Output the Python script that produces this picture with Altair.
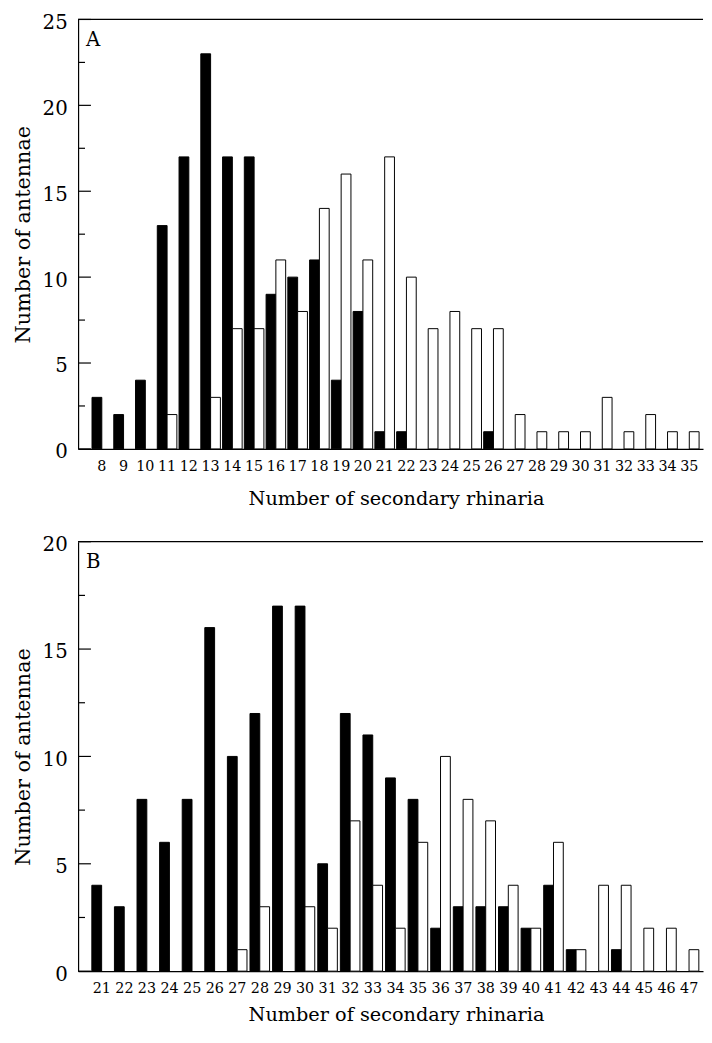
import altair as alt
import pandas as pd

FONT = "DejaVu Serif"
SERIES = ["filled", "open"]

# Panel A
a_bins = list(range(8, 36))
a_filled = [3, 2, 4, 13, 17, 23, 17, 17, 9, 10, 11, 4, 8, 1, 1, 0, 0, 0, 1, 0, 0, 0, 0, 0, 0, 0, 0, 0]
a_open = [0, 0, 0, 2, 0, 3, 7, 7, 11, 8, 14, 16, 11, 17, 10, 7, 8, 7, 7, 2, 1, 1, 1, 3, 1, 2, 1, 1]
a_ymax = 25

# Panel B
b_bins = list(range(21, 48))
b_filled = [4, 3, 8, 6, 8, 16, 10, 12, 17, 17, 5, 12, 11, 9, 8, 2, 3, 3, 3, 2, 4, 1, 0, 1, 0, 0, 0]
b_open = [0, 0, 0, 0, 0, 0, 1, 3, 0, 3, 2, 7, 4, 2, 6, 10, 8, 7, 4, 2, 6, 1, 4, 4, 2, 2, 1]
b_ymax = 20

X_TITLE = "Number of secondary rhinaria"
Y_TITLE = "Number of antennae"

W, H = 633, 435
MAJOR_LEN, MINOR_LEN = 13, 7  # inward tick lengths (px)


def panel(bins, filled, opened, ymax, label, pi, po, align, xtitle_pad):
    rows = []
    for b, f, o in zip(bins, filled, opened):
        if f > 0:
            rows.append({"bin": b, "series": "filled", "count": f})
        if o > 0:
            rows.append({"bin": b, "series": "open", "count": o})
    df = pd.DataFrame(rows)
    major = list(range(0, ymax + 1, 5))
    minor = [v + 2.5 for v in major[:-1]]
    ticks = pd.DataFrame({
        "count": major + minor,
        "x0": [0] * (len(major) + len(minor)),
        "x1": [MAJOR_LEN] * len(major) + [MINOR_LEN] * len(minor),
    })
    yscale = alt.Scale(domain=[0, ymax], nice=False)
    yaxis = alt.Axis(title=Y_TITLE, values=major, ticks=False, grid=False,
                     labelFontSize=20, labelPadding=11, labelOffset=3,
                     titleFontSize=21, titlePadding=9)

    def yenc(field):
        return alt.Y(field, type="quantitative", scale=yscale, axis=yaxis, title=Y_TITLE)

    bars = alt.Chart(df).mark_bar(stroke="black", strokeWidth=1).encode(
        x=alt.X(
            "bin:O",
            scale=alt.Scale(domain=bins, paddingInner=pi, paddingOuter=po, align=align),
            axis=alt.Axis(title=X_TITLE, labelAngle=0, ticks=False, grid=False,
                          labelFontSize=14.5, labelPadding=11, titleFontSize=19.5,
                          titlePadding=xtitle_pad, titleX=322),
        ),
        xOffset=alt.XOffset("series:N", sort=SERIES,
                            scale=alt.Scale(domain=SERIES, paddingInner=0, paddingOuter=0)),
        y=yenc("count"),
        fill=alt.Fill("series:N", scale=alt.Scale(domain=SERIES, range=["black", "white"]), legend=None),
    )
    tick_layer = alt.Chart(ticks).mark_rule(color="black", strokeWidth=1.2).encode(
        x=alt.X("x0:Q", scale=alt.Scale(domain=[0, W], range=[0, W], nice=False, zero=False), axis=None),
        x2="x1:Q",
        y=yenc("count"),
    )
    frame = alt.Chart(pd.DataFrame({"count": [ymax]})).mark_rule(color="black", strokeWidth=1.3).encode(
        y=yenc("count"))
    txt = alt.Chart(pd.DataFrame({"t": [label]})).mark_text(
        align="left", baseline="top", font=FONT, fontSize=20, color="black").encode(
        text="t:N", x=alt.value(8), y=alt.value(11))
    return alt.layer(bars, tick_layer, frame, txt).resolve_scale(x="independent").properties(
        width=W, height=H)


pa = panel(a_bins, a_filled, a_open, a_ymax, "A", 0.1, 0.41, 0.78, 17)
pb = panel(b_bins, b_filled, b_open, b_ymax, "B", 0.12, 0.39, 0.78, 10)

chart = alt.vconcat(pa, pb, spacing=27).properties(
    padding={"left": 4, "top": -2, "right": 0, "bottom": 0}
).configure_view(stroke=None).configure_axis(
    labelFont=FONT, titleFont=FONT, titleFontWeight="normal",
    labelColor="black", titleColor="black", domainColor="black", domainWidth=1.2,
)

chart.save("out.html", embed_options={"renderer": "svg", "actions": False})
